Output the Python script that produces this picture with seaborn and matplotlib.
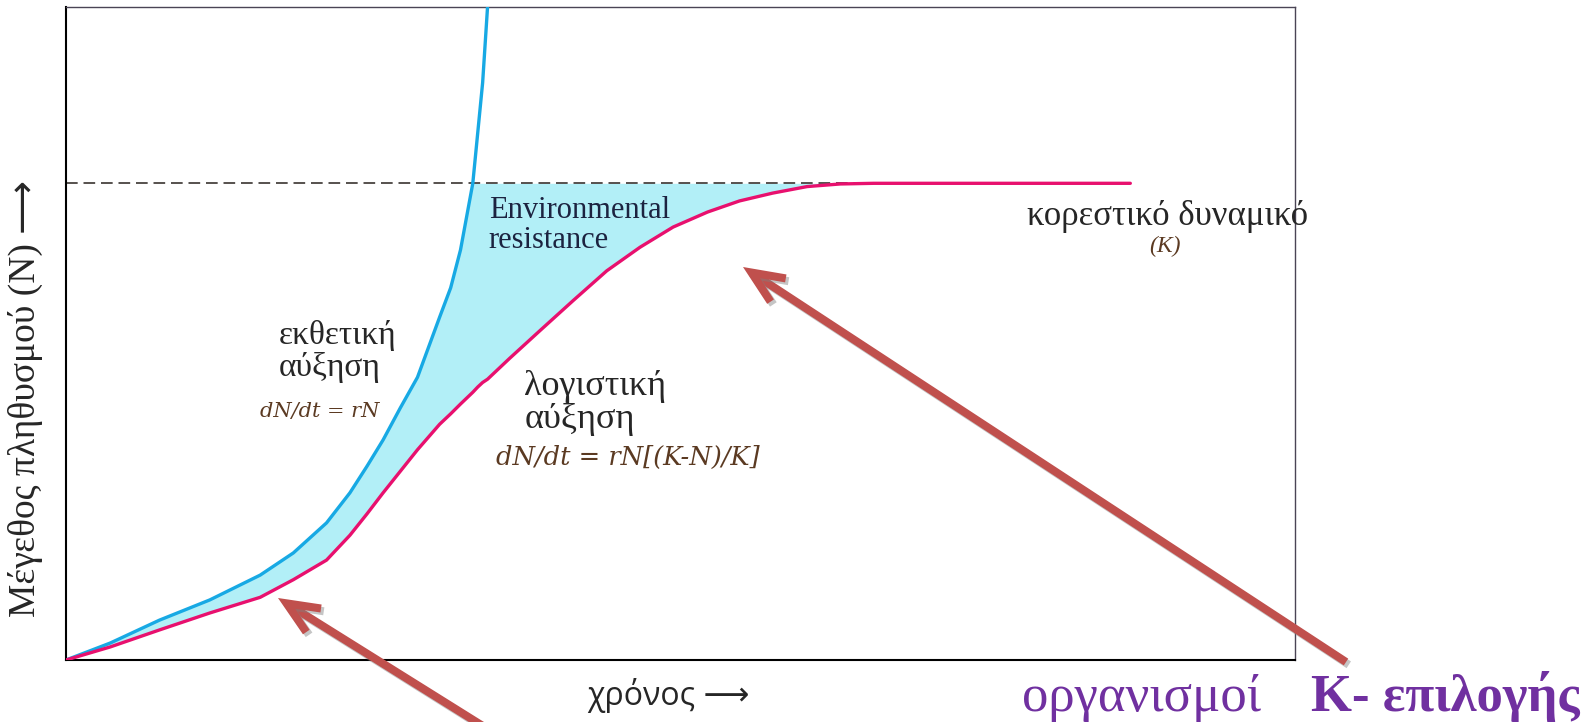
import numpy as np
import pandas as pd
import matplotlib
matplotlib.use("Agg")
import matplotlib.pyplot as plt
import matplotlib.patheffects as pe
import seaborn as sns

# Data (time in %, population in % of axis height)
time = [0, 3.6, 7.6, 11.7, 15.8, 18.5, 21.2, 23.1, 24.5, 25.8, 27.2, 28.6, 30.4,
        31.3, 32.1, 33.1, 33.5, 33.9, 34.3, 36.1, 38.6, 41.3, 44.0, 46.7, 49.4,
        52.2, 54.8, 57.5, 60.3, 63.0, 65.7, 86.6]
exponential = [0, 2.6, 6.1, 9.2, 13.0, 16.4, 21.0, 25.6, 29.7, 33.7, 38.6, 43.3,
               52.5, 57.0, 62.8, 73.0, 80.7, 88.4, 100, None, None, None, None,
               None, None, None, None, None, None, None, None, None]
logistic = [0, 2.0, 4.6, 7.2, 9.6, 12.3, 15.3, 19.1, 22.4, 25.6, 28.9, 32.2, 36.1,
            37.7, 39.2, 41.0, 41.8, 42.5, 43.0, 46.2, 50.5, 55.1, 59.6, 63.2, 66.3,
            68.6, 70.3, 71.5, 72.5, 72.9, 73.0, 73.0]
K = 73.0

# Colours
BLUE = "#17A9E4"
MAGENTA = "#E8106E"
FILL = "#B2EFF7"
ARROW = "#C0504D"
PURPLE = "#7030A0"
BROWN = "#5b3a22"

sns.set_style("white")
plt.rcParams["font.family"] = ["Liberation Serif", "DejaVu Sans"]

df = pd.DataFrame({"time": time, "exponential": exponential, "logistic": logistic})
df["exponential"] = df["exponential"].astype(float)

W, H = 1587, 722
fig = plt.figure(figsize=(W / 100, H / 100), dpi=100)
ax = fig.add_axes([66 / W, (H - 660) / H, 1229 / W, 653 / H])

# environmental resistance area
upper = np.fmin(df["exponential"].values, K)
ax.fill_between(df["time"], df["logistic"], upper, where=upper >= df["logistic"],
                color=FILL, lw=0, zorder=1)

# carrying capacity
ax.hlines(K, 0, df["time"].iloc[-1], colors="#3a3330", lw=1.2,
          linestyles=(0, (7, 3.5)), zorder=2)

exp_df = df.dropna(subset=["exponential"])
sns.lineplot(data=exp_df, x="time", y="exponential", ax=ax, color=BLUE, lw=2.4,
             estimator=None, sort=False, zorder=3, solid_joinstyle="round")
sns.lineplot(data=df, x="time", y="logistic", ax=ax, color=MAGENTA, lw=2.4,
             estimator=None, sort=False, zorder=4, solid_joinstyle="round")

ax.set_xlim(0, 100)
ax.set_ylim(0, 100)
ax.set_xticks([])
ax.set_yticks([])
for side in ["left", "bottom"]:
    ax.spines[side].set_color("black")
    ax.spines[side].set_linewidth(1.5)
for side in ["top", "right"]:
    ax.spines[side].set_color("#4a4455")
    ax.spines[side].set_linewidth(1.0)

# axis labels
ax.set_xlabel("χρόνος ⟶", family=["Open Sans", "DejaVu Sans"], fontsize=23)
ax.xaxis.set_label_coords(0.49, -0.054)
ax.xaxis.label.set_va("center")
ax.set_ylabel("Μέγεθος πληθυσμού (N) ⟶", fontsize=27)
ax.yaxis.set_label_coords(-0.033, 0.40)
ax.yaxis.label.set_va("center")

# annotations inside the plot
ax.text(34.4, 66.6, "Environmental\nresistance", fontsize=22, color="#1c2340",
        ha="left", va="center", linespacing=1.05)
ax.text(17.3, 47.3, "εκθετική\nαύξηση", fontsize=24, ha="left", va="center",
        linespacing=1.05)
ax.text(15.8, 38.0, "dN/dt = rN", fontsize=15, style="italic", color=BROWN,
        family="DejaVu Serif", ha="left", va="center")
ax.text(37.3, 39.3, "λογιστική\nαύξηση", fontsize=26, ha="left", va="center",
        linespacing=1.0)
ax.text(35.0, 31.1, "dN/dt = rN[(K-N)/K]", fontsize=18.5, style="italic",
        color=BROWN, family="DejaVu Serif", ha="left", va="center")
ax.text(89.6, 67.9, "κορεστικό δυναμικό", fontsize=25, ha="center", va="center",
        clip_on=False)
ax.text(89.4, 63.3, "(K)", fontsize=17, style="italic", color=BROWN,
        ha="center", va="center")

# bottom-right caption
fig.text(1022 / W, 11 / H, "οργανισμοί", fontsize=38, color=PURPLE,
         ha="left", va="baseline")
fig.text(1311 / W, 11 / H, "K- επιλογής", fontsize=38, color=PURPLE,
         fontweight="bold", ha="left", va="baseline")

# red pointer arrows (figure pixels)
arrow_kw = dict(arrowstyle="->,head_length=1.15,head_width=0.5", color=ARROW,
                lw=5.8, mutation_scale=20, shrinkA=0, shrinkB=0,
                capstyle="butt", joinstyle="miter",
                path_effects=[pe.SimpleLineShadow(offset=(2, -2), shadow_color="gray",
                                                  alpha=0.45),
                              pe.Normal()])
ax.annotate("", xy=(743, H - 267), xycoords="figure pixels",
            xytext=(1346, H - 662), textcoords="figure pixels",
            arrowprops=arrow_kw, annotation_clip=False)
ax.annotate("", xy=(278, H - 598), xycoords="figure pixels",
            xytext=(486, -6), textcoords="figure pixels",
            arrowprops=arrow_kw, annotation_clip=False)

fig.savefig("out.png", dpi=100)
